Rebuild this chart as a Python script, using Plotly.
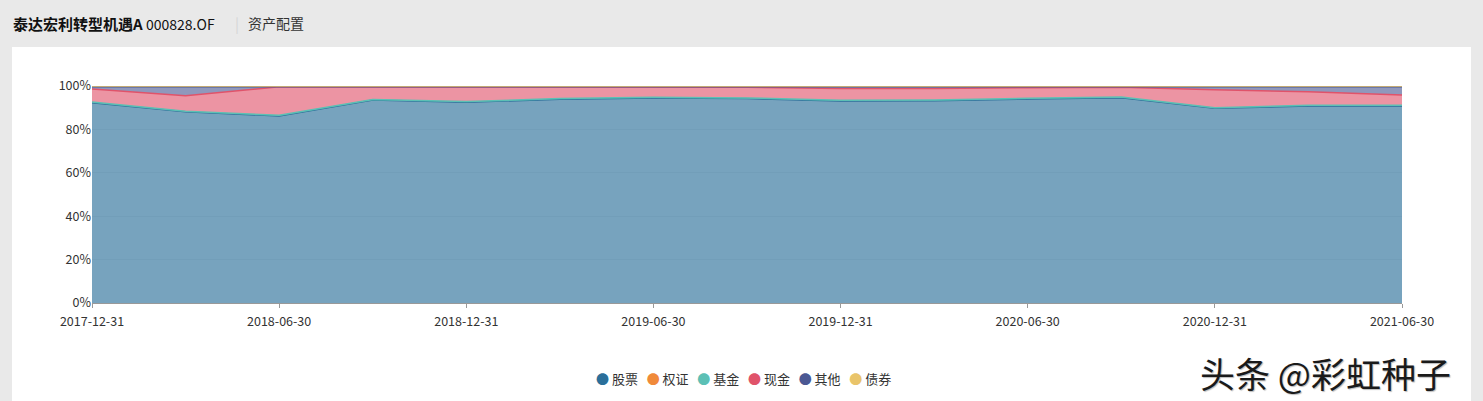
import plotly.graph_objects as go

dates = ["2017-12-31", "2018-03-31", "2018-06-30", "2018-09-30", "2018-12-31",
         "2019-03-31", "2019-06-30", "2019-09-30", "2019-12-31", "2020-03-31",
         "2020-06-30", "2020-09-30", "2020-12-31", "2021-03-31", "2021-06-30"]
stock = [92.3, 88.1, 86.2, 93.5, 92.5, 93.9, 94.5, 94.2, 93.1, 93.2, 94.0, 94.6, 89.7, 90.8, 90.8]
warrant = [0, 0, 0, 0, 0, 0, 0, 0, 0, 0, 0, 0, 0, 0, 0]
fund = [0.3, 0.3, 0.3, 0.3, 0.3, 0.3, 0.3, 0.3, 0.3, 0.3, 0.3, 0.3, 0.3, 0.3, 0.3]
cash = [6.0, 7.1, 13.1, 5.8, 6.8, 5.3, 4.7, 4.9, 5.4, 5.3, 4.9, 4.5, 8.3, 6.2, 4.8]
other = [1.1, 4.2, 0.1, 0.1, 0.1, 0.2, 0.2, 0.3, 0.9, 0.9, 0.5, 0.3, 1.4, 2.4, 3.8]
bond = [0.3, 0.3, 0.3, 0.3, 0.3, 0.3, 0.3, 0.3, 0.3, 0.3, 0.3, 0.3, 0.3, 0.3, 0.3]
tick_labels = ["0%", "20%", "40%", "60%", "80%", "100%"]

series = [
    ("股票", stock, "#2b6f9a", "rgba(43,111,154,0.64)", 1.5),
    ("权证", warrant, "#f08a3a", "rgba(240,138,58,0.6)", 0),
    ("基金", fund, "#5cc0b5", "rgba(92,192,181,0.6)", 1.5),
    ("现金", cash, "#e0536a", "rgba(224,83,106,0.62)", 1.5),
    ("其他", other, "#4b5893", "rgba(75,88,147,0.62)", 1.5),
    ("债券", bond, "#e9c46a", "rgba(233,196,106,0.8)", 1.5),
]

FONT = "Noto Sans CJK SC, PingFang SC, sans-serif"
fig = go.Figure()
for name, vals, col, fill, lw in series:
    fig.add_trace(go.Scatter(
        x=dates, y=vals, name=name, stackgroup="one", mode="lines",
        line=dict(color=col, width=lw), fillcolor=fill, showlegend=False,
        hoverinfo="x+y+name"))

W, H = 1483, 401
L, R, T, B = 92, 81, 86, 98
pw, ph = W - L - R, H - T - B
def px(x):
    return (x - L) / pw
def py(y):
    return (H - B - y) / ph

legend_text = "&nbsp;&nbsp;&nbsp;".join(
    f"<span style='color:{col};font-size:13px'>●</span> {name}" for name, _, col, _, _ in series)

fig.update_layout(
    width=W, height=H,
    margin=dict(l=L, r=R, t=T, b=B),
    paper_bgcolor="#e9e9e9", plot_bgcolor="white",
    font=dict(family=FONT, size=13, color="#333"),
    showlegend=False,
    xaxis=dict(type="category", range=[0, len(dates) - 1],
               tickvals=dates[::2], ticktext=dates[::2],
               showgrid=False, showline=True, linecolor="#999", linewidth=1,
               ticks="outside", ticklen=4, tickcolor="#999", ticklabelstandoff=3,
               tickfont=dict(size=12.5, color="#333"), zeroline=False),
    yaxis=dict(range=[0, 100], tickvals=[0, 20, 40, 60, 80, 100], ticktext=tick_labels,
               showgrid=True, gridcolor="rgba(0,0,0,0.06)", zeroline=False,
               showline=False, tickfont=dict(size=12.5, color="#333"), fixedrange=True),
    shapes=[dict(type="rect", xref="paper", yref="paper", layer="below",
                 x0=px(12), x1=px(1471), y0=py(420), y1=py(47),
                 fillcolor="white", line=dict(width=0))],
    annotations=[
        dict(xref="paper", yref="paper", x=px(11), y=py(23), xanchor="left", yanchor="middle",
             showarrow=False,
             text="<b>泰达宏利转型机遇A</b> <span style='font-size:14px'>000828.OF</span>",
             font=dict(size=15, color="#111")),
        dict(xref="paper", yref="paper", x=px(233), y=py(23), xanchor="left", yanchor="middle",
             showarrow=False, text="|", font=dict(size=15, color="#d6d6d6")),
        dict(xref="paper", yref="paper", x=px(246), y=py(23), xanchor="left", yanchor="middle",
             showarrow=False, text="资产配置", font=dict(size=14, color="#333")),
        dict(xref="paper", yref="paper", x=px(743), y=py(378), xanchor="center", yanchor="middle",
             showarrow=False, text=legend_text, font=dict(size=13, color="#333")),
        dict(xref="paper", yref="paper", x=px(1198), y=py(372), xanchor="left", yanchor="middle",
             showarrow=False, text="头条 @彩虹种子",
             font=dict(size=35, color="#1a1a1a", shadow="1px 1px 1px #bbb")),
    ],
)
fig.write_html("out.html", config={"displayModeBar": False},
               post_script="document.body.style.margin='0px';")
